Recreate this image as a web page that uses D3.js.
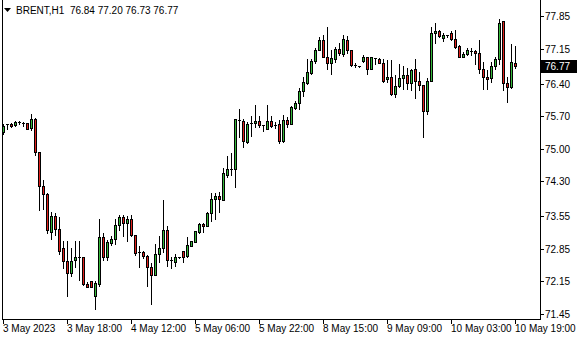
<!DOCTYPE html>
<html>
<head>
<meta charset="utf-8">
<script src="https://cdn.jsdelivr.net/npm/d3@7"></script>
<style>
  html, body { margin: 0; padding: 0; background: #fff; }
  text { font-family: "Liberation Sans", Arial, sans-serif; font-size: 10px; fill: #000; }
</style>
</head>
<body>
<svg id="chart"></svg>
<script>
// BRENT H1 candles
const symbol = "BRENT,H1";
const lastBar = [76.84, 77.20, 76.73, 76.77];

const opens = [
  75.36, 75.51, 75.53, 75.50, 75.56, 75.56, 75.55, 75.44, 75.63, 74.92,
  74.20, 74.03, 73.22, 73.56, 73.28, 72.87, 72.59, 72.34, 72.60, 72.67,
  72.67, 72.09, 72.16, 71.83, 72.10, 73.10, 72.67, 72.97, 73.06, 73.37,
  73.53, 73.41, 73.49, 73.15, 72.78, 72.79, 72.70, 72.47, 72.28, 72.74,
  72.87, 73.26, 72.60, 72.56, 72.67, 72.81, 72.69, 72.90, 73.00, 73.22,
  73.39, 73.33, 73.62, 73.92, 73.99, 73.90, 74.44, 74.56, 74.56, 75.61,
  75.60, 75.15, 75.53, 75.55, 75.60, 75.50, 75.42, 75.60, 75.51, 75.53,
  75.17, 75.62, 75.53, 75.87, 75.99, 76.23, 76.42, 76.63, 76.89, 77.12,
  77.34, 76.98, 76.84, 76.92, 77.14, 77.03, 77.34, 77.11, 76.80, 76.77,
  76.89, 76.96, 76.71, 76.94, 76.92, 76.84, 76.49, 76.53, 76.18, 76.35,
  76.51, 76.58, 76.41, 76.71, 76.46, 76.37, 75.80, 76.46, 77.48, 77.53,
  77.37, 77.41, 77.49, 77.35, 77.21, 76.98, 77.03, 77.10, 77.10, 77.05,
  76.71, 76.53, 76.51, 76.78, 76.92, 77.74, 76.41, 76.32, 76.84
];
const highs = [
  75.53, 75.53, 75.56, 75.59, 75.59, 75.57, 75.56, 75.75, 75.65, 74.93,
  74.33, 74.05, 73.63, 73.62, 73.53, 73.01, 73.01, 72.87, 73.01, 73.01,
  72.68, 72.13, 72.16, 72.15, 73.49, 73.20, 73.03, 73.12, 73.49, 73.58,
  73.58, 73.56, 73.58, 73.15, 72.90, 72.80, 72.72, 72.55, 72.96, 73.13,
  73.90, 73.33, 72.67, 72.74, 72.68, 72.81, 73.10, 73.02, 73.24, 73.41,
  73.41, 73.63, 74.05, 74.05, 74.06, 74.58, 74.85, 74.90, 75.63, 75.85,
  75.63, 75.58, 75.70, 75.94, 75.70, 75.51, 75.94, 75.70, 75.58, 75.62,
  75.73, 75.68, 75.92, 76.03, 76.30, 76.53, 76.92, 76.92, 77.16, 77.39,
  77.44, 77.62, 77.11, 77.18, 77.26, 77.44, 77.42, 77.11, 76.84, 76.77,
  77.01, 76.98, 76.98, 76.94, 76.94, 76.92, 76.91, 76.91, 76.58, 76.82,
  76.78, 76.73, 76.71, 76.92, 76.65, 76.37, 76.51, 77.62, 77.69, 77.56,
  77.48, 77.45, 77.53, 77.55, 77.23, 77.08, 77.16, 77.16, 77.12, 77.34,
  76.87, 76.69, 76.87, 76.98, 77.78, 77.74, 76.55, 77.25, 77.20
];
const lows = [
  75.32, 75.42, 75.46, 75.49, 75.52, 75.49, 75.42, 75.40, 74.87, 73.69,
  73.71, 73.19, 73.06, 73.15, 72.74, 72.44, 71.84, 72.26, 72.47, 72.18,
  72.08, 72.04, 72.03, 71.56, 72.06, 72.60, 72.62, 72.93, 72.95, 73.26,
  73.12, 73.01, 73.13, 72.71, 72.47, 72.65, 72.06, 71.67, 72.28, 72.56,
  72.79, 72.49, 72.44, 72.49, 72.66, 72.56, 72.67, 72.90, 73.00, 73.20,
  73.22, 73.33, 73.44, 73.50, 73.63, 73.90, 74.39, 74.44, 74.17, 75.26,
  75.04, 75.12, 75.27, 75.47, 75.47, 75.37, 75.42, 75.46, 75.44, 75.12,
  75.15, 75.46, 75.53, 75.85, 75.85, 76.13, 76.39, 76.60, 76.85, 77.11,
  76.96, 76.71, 76.61, 76.87, 77.01, 76.99, 77.06, 76.78, 76.75, 76.75,
  76.87, 76.61, 76.71, 76.82, 76.85, 76.44, 76.44, 76.15, 76.10, 76.33,
  76.28, 76.28, 76.26, 76.08, 76.26, 75.25, 75.75, 76.46, 77.28, 77.39,
  77.32, 77.40, 77.34, 77.16, 76.96, 76.96, 77.01, 77.01, 76.82, 76.63,
  76.28, 76.28, 76.44, 76.71, 76.82, 76.25, 76.01, 76.30, 76.73
];
const closes = [
  75.49, 75.52, 75.49, 75.58, 75.57, 75.55, 75.43, 75.63, 74.92, 74.20,
  74.03, 73.26, 73.56, 73.28, 72.81, 72.59, 72.34, 72.59, 72.67, 72.65,
  72.09, 72.04, 72.04, 72.11, 73.10, 72.67, 72.99, 73.06, 73.37, 73.53,
  73.40, 73.49, 73.15, 72.76, 72.77, 72.70, 72.47, 72.28, 72.74, 72.87,
  73.26, 72.60, 72.58, 72.67, 72.67, 72.67, 72.93, 73.02, 73.24, 73.39,
  73.33, 73.62, 73.92, 73.99, 73.92, 74.47, 74.56, 74.57, 75.63, 75.62,
  75.17, 75.53, 75.56, 75.60, 75.50, 75.49, 75.60, 75.49, 75.51, 75.17,
  75.62, 75.53, 75.89, 75.99, 76.23, 76.44, 76.65, 76.89, 77.12, 77.34,
  76.98, 76.84, 76.94, 77.14, 77.05, 77.35, 77.11, 76.80, 76.79, 76.75,
  76.96, 76.71, 76.96, 76.93, 76.85, 76.46, 76.53, 76.18, 76.35, 76.51,
  76.58, 76.41, 76.69, 76.46, 76.36, 75.80, 76.46, 77.49, 77.53, 77.41,
  77.44, 77.44, 77.35, 77.18, 76.98, 77.03, 77.12, 77.10, 77.05, 76.71,
  76.53, 76.49, 76.78, 76.92, 77.71, 76.41, 76.32, 76.86, 76.77
];

const timeLabels = ["3 May 2023", "3 May 18:00", "4 May 12:00", "5 May 06:00", "5 May 22:00",
                    "8 May 15:00", "9 May 09:00", "10 May 03:00", "10 May 19:00"];
const timeLabelBars = [0, 16, 32, 48, 64, 80, 96, 112, 128];
const priceTicks = [77.85, 77.15, 76.40, 75.70, 75.00, 74.30, 73.55, 72.85, 72.15, 71.45];

const width = 580;
const height = 340;
const plotLeft = 2, plotRight = 540, plotBottom = 319;

const svg = d3.select("#chart")
    .attr("width", width)
    .attr("height", height);

const x = d3.scaleLinear().domain([0, opens.length - 1]).range([3.3, 515.3]);
const y = d3.scaleLinear().domain([71.45, 77.85]).range([314, 16]);

const bars = opens.map((o, i) => ({ i, o, h: highs[i], l: lows[i], c: closes[i] }));

// frame
svg.append("path")
    .attr("d", `M${plotLeft + 0.5},0 V${plotBottom + 0.5} H${plotRight + 0.5} V0`)
    .attr("fill", "none")
    .attr("stroke", "#000")
    .attr("shape-rendering", "crispEdges");

// wicks
svg.append("g").selectAll("line")
    .data(bars)
    .enter().append("line")
    .attr("x1", d => Math.floor(x(d.i)) + 0.5)
    .attr("x2", d => Math.floor(x(d.i)) + 0.5)
    .attr("y1", d => Math.round(y(d.h)))
    .attr("y2", d => Math.round(y(d.l)) + 1)
    .attr("stroke", "#000")
    .attr("shape-rendering", "crispEdges");

// bodies
const body = svg.append("g").selectAll("g")
    .data(bars)
    .enter().append("g");

body.each(function(d) {
    const g = d3.select(this);
    const c = Math.floor(x(d.i));
    const top = Math.round(y(Math.max(d.o, d.c)));
    const bot = Math.round(y(Math.min(d.o, d.c)));
    if (bot - top < 2) {
        g.append("line")
            .attr("x1", c - 1).attr("x2", c + 2)
            .attr("y1", top + 0.5).attr("y2", top + 0.5)
            .attr("stroke", "#000")
            .attr("shape-rendering", "crispEdges");
    } else {
        g.append("rect")
            .attr("x", c - 0.5)
            .attr("y", top + 0.5)
            .attr("width", 2)
            .attr("height", bot - top)
            .attr("fill", d.c >= d.o ? "#35b83a" : "#e0201c")
            .attr("stroke", "#000")
            .attr("shape-rendering", "crispEdges");
    }
});

// price axis
const yAxis = svg.append("g");
yAxis.selectAll("line")
    .data(priceTicks)
    .enter().append("line")
    .attr("x1", plotRight).attr("x2", plotRight + 4)
    .attr("y1", d => Math.round(y(d)) + 0.5)
    .attr("y2", d => Math.round(y(d)) + 0.5)
    .attr("stroke", "#000")
    .attr("shape-rendering", "crispEdges");
yAxis.selectAll("text")
    .data(priceTicks)
    .enter().append("text")
    .attr("x", plotRight + 5)
    .attr("y", d => y(d) + 4)
    .text(d => d.toFixed(2));

// current price marker
const lastY = Math.round(y(closes[closes.length - 1]));
svg.append("rect")
    .attr("x", plotRight + 1).attr("y", lastY - 6)
    .attr("width", 36).attr("height", 13)
    .attr("fill", "#000");
svg.append("text")
    .attr("x", plotRight + 5)
    .attr("y", lastY + 4)
    .style("fill", "#fff")
    .text(closes[closes.length - 1].toFixed(2));

// time axis
const xAxis = svg.append("g");
xAxis.selectAll("line")
    .data(timeLabelBars)
    .enter().append("line")
    .attr("x1", d => Math.floor(x(d)) + 0.5)
    .attr("x2", d => Math.floor(x(d)) + 0.5)
    .attr("y1", plotBottom).attr("y2", plotBottom + 5)
    .attr("stroke", "#000")
    .attr("shape-rendering", "crispEdges");
xAxis.selectAll("text")
    .data(timeLabels)
    .enter().append("text")
    .attr("x", (d, k) => Math.floor(x(timeLabelBars[k])))
    .attr("y", 332)
    .text(d => d);

// header
svg.append("path")
    .attr("d", "M4,8 H11 L7.5,12 Z")
    .attr("fill", "#000");
svg.append("text")
    .attr("x", 16).attr("y", 14)
    .style("white-space", "pre")
    .text(`${symbol}  ${lastBar.map(v => v.toFixed(2)).join(" ")}`);
</script>
</body>
</html>
